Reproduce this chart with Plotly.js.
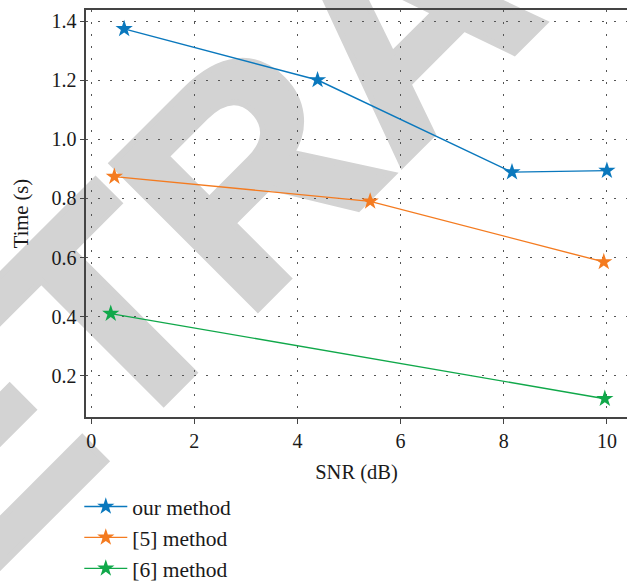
<!DOCTYPE html>
<html>
<head>
<meta charset="utf-8">
<script src="https://cdn.plot.ly/plotly-3.0.1.min.js"></script>
<style>
  html, body { margin: 0; padding: 0; background: #ffffff; width: 627px; height: 586px; overflow: hidden; }
  #wm { position: absolute; left: 399.5px; top: 20px; transform: translate(-50%, -50%) rotate(-45deg);
        font-family: 'Liberation Sans', Arial, sans-serif; font-weight: bold; font-size: 300px; line-height: 1;
        color: #d3d3d3; -webkit-text-stroke: 6px #d3d3d3; white-space: nowrap; z-index: 0; }
  #chart { position: absolute; left: 0; top: 0; width: 627px; height: 586px; z-index: 1; }
</style>
</head>
<body>
<div id="wm">RETRACTED</div>
<div id="chart"></div>
<script>
// Data
const seriesNames = ['our method', '[5] method', '[6] method'];
const seriesColors = ['#0a78bd', '#f47b20', '#10a84a'];
const oursX = [0.64, 4.39, 8.16, 10.0];
const oursY = [1.374, 1.201, 0.889, 0.894];
const ref5X = [0.45, 5.41, 9.94];
const ref5Y = [0.874, 0.790, 0.585];
const ref6X = [0.38, 9.96];
const ref6Y = [0.410, 0.122];
const xTicks = [0, 2, 4, 6, 8, 10];
const yTicks = [0.2, 0.4, 0.6, 0.8, 1.0, 1.2, 1.4];
const yTickText = ['0.2', '0.4', '0.6', '0.8', '1.0', '1.2', '1.4'];

const xs = [oursX, ref5X, ref6X];
const ys = [oursY, ref5Y, ref6Y];
const traces = seriesNames.map((n, i) => ({
  x: xs[i], y: ys[i], name: n, type: 'scatter', mode: 'lines+markers',
  legendgroup: 'g' + i,
  line: { color: seriesColors[i], width: 1.4 },
  marker: { symbol: 'star', size: 13, color: seriesColors[i] }
}));

const serif = '"Liberation Serif", "Times New Roman", serif';
const layout = {
  width: 627, height: 586,
  margin: { l: 86, r: 0, t: 10, b: 169, autoexpand: false },
  paper_bgcolor: 'rgba(0,0,0,0)', plot_bgcolor: 'rgba(0,0,0,0)',
  font: { family: serif, size: 20, color: '#1a1a1a' },
  showlegend: true,
  legend: { x: -0.0124, xanchor: 'left', y: -0.1695, yanchor: 'top', orientation: 'v',
            traceorder: 'grouped', tracegroupgap: 0, itemwidth: 43, bgcolor: 'rgba(0,0,0,0)',
            font: { family: serif, size: 21.5, color: '#1a1a1a' } },
  xaxis: {
    range: [-0.1, 10.39], tickvals: xTicks, ticktext: xTicks.map(String),
    showline: true, linecolor: '#444', linewidth: 1.6, mirror: true,
    ticks: 'outside', ticklen: 5, tickcolor: '#444', tickwidth: 1,
    showgrid: true, gridcolor: '#555', gridwidth: 1.2, griddash: '1.5px,10.5px',
    zeroline: false, ticklabelstandoff: 0,
    title: { text: 'SNR (dB)', font: { family: serif, size: 20.5, color: '#1a1a1a' }, standoff: 14 }
  },
  yaxis: {
    range: [0.06, 1.438], tickvals: yTicks, ticktext: yTickText,
    showline: true, linecolor: '#444', linewidth: 1.6, mirror: false,
    ticks: 'outside', ticklen: 4, tickcolor: '#444', tickwidth: 1,
    showgrid: true, gridcolor: '#555', gridwidth: 1.2, griddash: '1.5px,10.5px',
    zeroline: false, ticklabelstandoff: 0,
    title: { text: 'Time (s)', font: { family: serif, size: 20.5, color: '#1a1a1a' }, standoff: 17 }
  }
};
Plotly.newPlot('chart', traces, layout, { displayModeBar: false, staticPlot: true });
</script>
</body>
</html>
